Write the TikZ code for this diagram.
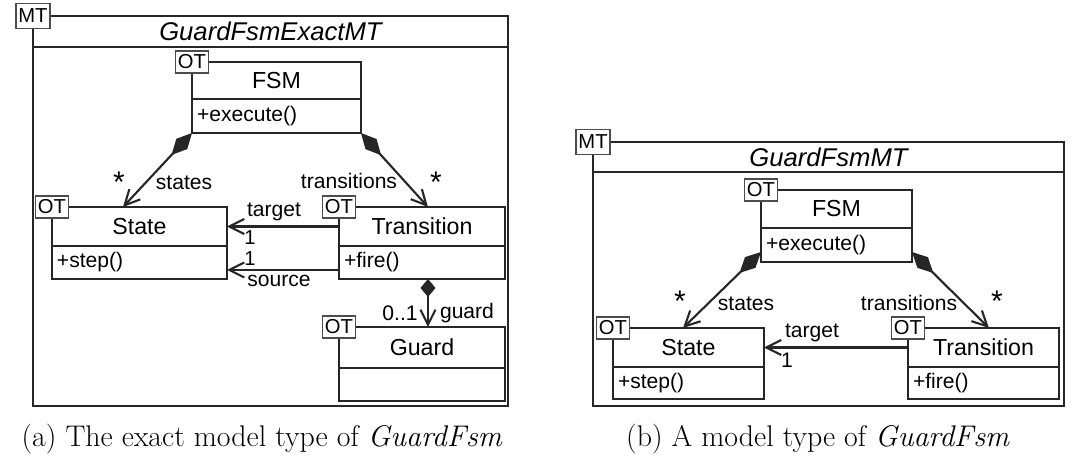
\documentclass[tikz,border=0pt]{standalone}
\usepackage{fontspec}
\setsansfont{Liberation Sans}
\usetikzlibrary{positioning,arrows.meta,calc}

\begin{document}
\begin{tikzpicture}[
    x=0.02cm, y=-0.02cm,
    font=\sffamily,
    line width=1.2pt,
    mtband/.style={
        draw=black!85,
        anchor=north west,
        inner sep=0pt,
        outer sep=0pt,
        minimum height=0.62cm,
        font=\fontsize{14.6}{16}\sffamily\itshape
    },
    mtbody/.style={
        draw=black!85,
        inner sep=0pt,
        outer sep=0pt
    },
    clshead/.style={
        draw=black!85,
        fill=white,
        anchor=north west,
        inner sep=0pt,
        outer sep=0pt,
        minimum height=0.78cm,
        font=\fontsize{13.2}{15}\sffamily
    },
    clsops/.style={
        draw=black!85,
        fill=white,
        align=left,
        inner xsep=0.1cm,
        inner ysep=0pt,
        outer sep=0pt,
        minimum height=0.66cm,
        font=\fontsize{12}{14}\sffamily
    },
    typetag/.style={
        draw=black!70,
        fill=white,
        line width=0.9pt,
        inner sep=0pt,
        minimum width=0.66cm,
        minimum height=0.44cm,
        font=\fontsize{11.5}{12}\sffamily
    },
    mttag/.style={
        typetag,
        minimum width=0.68cm,
        minimum height=0.5cm
    },
    lbl/.style={font=\fontsize{12}{14}\sffamily, inner sep=0pt},
    mult/.style={font=\fontsize{17}{17}\sffamily, inner sep=0pt},
    comp/.style={{Diamond[length=#1,width=0.3cm]}-{Straight Barb[length=0.3cm,width=0.3cm]}, draw=black!85},
    comp/.default=0.6cm,
    assoc/.style={-{Straight Barb[length=0.3cm,width=0.3cm]}, draw=black!85},
    caption/.style={anchor=base, font=\fontsize{17}{20}\rmfamily}
]
\useasboundingbox (0,0) rectangle (1072,472);

% (a) exact model type
\node[mtband, minimum width=9.5cm] (bandA) at (33,16) {GuardFsmExactMT};
\node[mtbody, minimum width=9.5cm, minimum height=7.18cm, below=0pt of bandA] (bodyA) {};
\node[mttag] (mtA) at (bandA.north west) {MT};

\node[clshead, minimum width=3.38cm, minimum height=0.74cm] (fsmA) at (192,62) {FSM};
\node[clsops, text width=3.18cm, minimum height=0.68cm, below=0pt of fsmA] (fsmAops) {+execute()};

\node[clshead, minimum width=3.5cm] (stateA) at (52,207) {State};
\node[clsops, text width=3.3cm, below=0pt of stateA] (stateAops) {+step()};

\node[clshead, minimum width=3.32cm] (transA) at (339,207) {Transition};
\node[clsops, text width=3.12cm, below=0pt of transA] (transAops) {+fire()};

\node[clshead, minimum width=3.32cm, minimum height=0.82cm] (guardA) at (339,327) {Guard};
\node[clsops, text width=3.12cm, below=0pt of guardA] (guardAops) {};

\node[typetag] (fsmAtag) at (fsmA.north west) {OT};
\node[typetag] (stateAtag) at (stateA.north west) {OT};
\node[typetag] (transAtag) at (transA.north west) {OT};
\node[typetag] (guardAtag) at (guardA.north west) {OT};

% compositions and references
\draw[comp] (fsmAops.south west) -- ([xshift=1.42cm]stateA.north west);
\draw[comp] (fsmAops.south east) -- ([xshift=1.78cm]transA.north west);
\draw[assoc] (transA.west) -- (stateA.east);
\draw[assoc] ([yshift=-0.15cm]transAops.west) -- ([yshift=-0.15cm]stateAops.east);
\draw[comp=0.36cm] ([xshift=0.12cm]transAops.south) -- ([xshift=0.12cm]guardA.north);

\node[mult] (mStatesA) at (119,182) {*};
\node[lbl] (lStatesA) at (184,183) {states};
\node[lbl] (lTransA) at (349,181) {transitions};
\node[mult] (mTransA) at (436,182) {*};
\node[lbl] (lTargetA) at (274,212) {target};
\node[lbl, font=\fontsize{11.5}{12}\sffamily] (mTargetA) at (250,238) {1};
\node[lbl, font=\fontsize{11.5}{12}\sffamily] (mSourceA) at (250,259) {1};
\node[lbl] (lSourceA) at (279,281) {source};
\node[lbl] (mGuardA) at (400,313) {0..1};
\node[lbl] (lGuardA) at (467,313) {guard};

% (b) model type
\node[mtband, minimum width=9.42cm, minimum height=0.6cm] (bandB) at (593,142) {GuardFsmMT};
\node[mtbody, minimum width=9.42cm, minimum height=4.68cm, below=0pt of bandB] (bodyB) {};
\node[mttag] (mtB) at (bandB.north west) {MT};

\node[clshead, minimum width=3.02cm, minimum height=0.76cm] (fsmB) at (761,190) {FSM};
\node[clsops, text width=2.82cm, minimum height=0.68cm, below=0pt of fsmB] (fsmBops) {+execute()};

\node[clshead, minimum width=3.02cm] (stateB) at (613,328) {State};
\node[clsops, text width=2.82cm, minimum height=0.64cm, below=0pt of stateB] (stateBops) {+step()};

\node[clshead, minimum width=3.02cm] (transB) at (908,328) {Transition};
\node[clsops, text width=2.82cm, minimum height=0.64cm, below=0pt of transB] (transBops) {+fire()};

\node[typetag] (fsmBtag) at (fsmB.north west) {OT};
\node[typetag] (stateBtag) at (stateB.north west) {OT};
\node[typetag] (transBtag) at (transB.north west) {OT};

\draw[comp] ([yshift=0.2cm]fsmBops.south west) -- ([xshift=1.4cm]stateB.north west);
\draw[comp] ([yshift=0.2cm]fsmBops.south east) -- ([xshift=1.62cm]transB.north west);
\draw[assoc] (transB.west) -- (stateB.east);

\node[mult] (mStatesB) at (680,301) {*};
\node[lbl] (lStatesB) at (746,304) {states};
\node[lbl] (lTransB) at (909,303) {transitions};
\node[mult] (mTransB) at (997,301) {*};
\node[lbl] (lTargetB) at (812,333) {target};
\node[lbl] (mTargetB) at (787,360) {1};

% captions
\node[caption] (capA) at (262,447) {(a) The exact model type of \textit{GuardFsm}};
\node[caption] (capB) at (818,447) {(b) A model type of \textit{GuardFsm}};

\end{tikzpicture}
\end{document}
